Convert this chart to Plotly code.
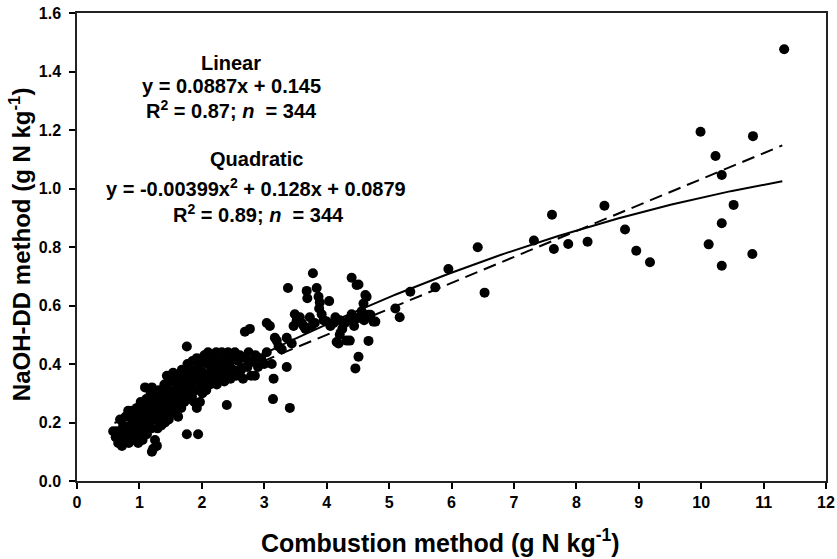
import numpy as np
import plotly.graph_objects as go

# ---- data ----
# dense low range (0.5 - 3.5 g N/kg)
x_low = [0.58, 0.62, 0.64, 0.66, 0.69, 0.70, 0.72, 0.74, 0.76,
         0.78, 0.80, 0.82, 0.83, 0.85, 0.86, 0.88, 0.89, 0.91, 0.92,
         0.94, 0.96, 0.97, 0.98, 1.00, 1.01, 1.02, 1.04, 1.05, 1.06, 1.08, 1.09, 1.10,
         1.11, 1.12, 1.14, 1.15, 1.16, 1.18, 1.19, 1.20, 1.20, 1.22, 1.22, 1.24, 1.25, 1.26, 1.27,
         1.28, 1.29, 1.30, 1.31, 1.33, 1.34, 1.35, 1.36, 1.38, 1.39, 1.40, 1.41, 1.43, 1.44, 1.45,
         1.46, 1.47, 1.48, 1.50, 1.51, 1.52, 1.54, 1.55, 1.56, 1.58, 1.59, 1.60, 1.62, 1.63, 1.64,
         1.65, 1.67, 1.68, 1.69, 1.71, 1.72, 1.74, 1.75, 1.76, 1.76, 1.77, 1.78, 1.80, 1.81, 1.83,
         1.84, 1.85, 1.86, 1.88, 1.89, 1.90, 1.92, 1.92, 1.94, 1.94, 1.95, 1.97, 1.98, 2.00, 2.01,
         2.02, 2.04, 2.05, 2.07, 2.08, 2.10, 2.11, 2.13, 2.14, 2.16, 2.18, 2.19, 2.21, 2.23, 2.24,
         2.26, 2.28, 2.30, 2.32, 2.34, 2.36, 2.38, 2.40, 2.40, 2.42, 2.44, 2.46, 2.48, 2.50,
         2.53, 2.55, 2.58, 2.61, 2.63, 2.66, 2.69, 2.70, 2.73, 2.75, 2.77, 2.79, 2.82, 2.85, 2.86,
         2.90, 2.95, 3.00, 3.04, 3.04, 3.09, 3.12, 3.14, 3.15, 3.17, 3.20, 3.23, 3.28, 3.36, 3.36,
         3.38, 3.41, 3.44, 3.47, 3.49]
y_low = [0.17, 0.15, 0.17, 0.13, 0.21, 0.16, 0.12, 0.19, 0.14,
         0.22, 0.17, 0.24, 0.13, 0.19, 0.15, 0.24, 0.21, 0.17, 0.14,
         0.22, 0.25, 0.19, 0.13, 0.16, 0.23, 0.27, 0.20, 0.14, 0.25, 0.18, 0.32, 0.22,
         0.28, 0.16, 0.24, 0.20, 0.27, 0.30, 0.18, 0.32, 0.10, 0.23, 0.11, 0.26, 0.14, 0.21, 0.29,
         0.12, 0.18, 0.25, 0.31, 0.22, 0.28, 0.19, 0.26, 0.30, 0.23, 0.33, 0.20, 0.27, 0.36, 0.24,
         0.31, 0.21, 0.29, 0.26, 0.34, 0.23, 0.37, 0.28, 0.31, 0.25, 0.34, 0.29, 0.22, 0.36, 0.27,
         0.32, 0.25, 0.38, 0.30, 0.34, 0.27, 0.37, 0.31, 0.46, 0.16, 0.40, 0.28, 0.35, 0.32, 0.38,
         0.29, 0.41, 0.34, 0.27, 0.37, 0.31, 0.42, 0.25, 0.16, 0.35, 0.39, 0.27, 0.33, 0.41, 0.30,
         0.37, 0.43, 0.34, 0.31, 0.40, 0.44, 0.36, 0.33, 0.41, 0.38, 0.43, 0.35, 0.39, 0.44, 0.33,
         0.37, 0.41, 0.35, 0.44, 0.39, 0.34, 0.42, 0.26, 0.37, 0.44, 0.40, 0.35, 0.42, 0.38,
         0.44, 0.36, 0.41, 0.43, 0.38, 0.35, 0.51, 0.42, 0.39, 0.44, 0.52, 0.36, 0.41, 0.36, 0.43,
         0.39, 0.42, 0.40, 0.54, 0.44, 0.53, 0.40, 0.28, 0.35, 0.49, 0.48, 0.46, 0.45, 0.49, 0.39,
         0.66, 0.25, 0.47, 0.53, 0.57]

# middle range (3.5 - 4.8 g N/kg)
x_mid = [3.52, 3.57, 3.60, 3.63, 3.66, 3.68, 3.69, 3.73, 3.76, 3.78, 3.81, 3.84, 3.87, 3.88,
         3.89, 3.92, 3.95, 4.00, 4.04, 4.06, 4.11, 4.14, 4.16, 4.19, 4.21, 4.21, 4.25, 4.29,
         4.32, 4.35, 4.37, 4.40, 4.40, 4.40, 4.44, 4.46, 4.48, 4.48, 4.51, 4.51, 4.52, 4.56,
         4.59, 4.60, 4.62, 4.64, 4.67, 4.67, 4.70, 4.75, 4.78]
y_mid = [0.55, 0.56, 0.54, 0.53, 0.52, 0.65, 0.625, 0.56, 0.53, 0.71, 0.54, 0.66, 0.63, 0.59,
         0.61, 0.57, 0.55, 0.545, 0.615, 0.53, 0.54, 0.56, 0.475, 0.47, 0.55, 0.50, 0.52, 0.54,
         0.48, 0.55, 0.48, 0.695, 0.57, 0.55, 0.53, 0.385, 0.67, 0.556, 0.425, 0.672, 0.56, 0.58,
         0.607, 0.55, 0.636, 0.63, 0.568, 0.479, 0.568, 0.545, 0.545]

# high range (> 5 g N/kg)
x_high = [5.10, 5.17, 5.34, 5.74, 5.95, 6.42, 6.53, 7.32, 7.61, 7.64, 7.87, 8.18, 8.45,
          8.78, 8.96, 9.18, 9.99, 10.12, 10.23, 10.33, 10.33, 10.33, 10.52, 10.82, 10.83, 11.33]
y_high = [0.59, 0.56, 0.647, 0.662, 0.725, 0.799, 0.644, 0.822, 0.91, 0.793, 0.81, 0.818, 0.941,
          0.86, 0.787, 0.748, 1.194, 0.809, 1.111, 1.046, 0.881, 0.736, 0.944, 0.776, 1.179, 1.476]

# fitted equations (from the chart text)
linear_coef = [0.0887, 0.145]             # slope, intercept
quad_coef = [-0.00399, 0.128, 0.0879]     # a, b, c
fit_range = [0.6, 11.3]

x_tick_vals = list(range(0, 13))
y_tick_vals = [0.0, 0.2, 0.4, 0.6, 0.8, 1.0, 1.2, 1.4, 1.6]

x_title = "Combustion method (g N kg<sup>-1</sup>)"
y_title = "NaOH-DD method (g N kg<sup>-1</sup>)"

# ---- figure ----
xs = x_low + x_mid + x_high
ys = y_low + y_mid + y_high

xf = np.linspace(fit_range[0], fit_range[1], 200)
y_lin = linear_coef[0] * xf + linear_coef[1]
y_quad = np.polyval(quad_coef, xf)

fig = go.Figure()
fig.add_trace(go.Scatter(x=xs, y=ys, mode="markers",
                         marker=dict(color="black", size=10, line=dict(width=0)),
                         showlegend=False))
fig.add_trace(go.Scatter(x=xf, y=y_lin, mode="lines",
                         line=dict(color="black", width=2, dash="13px,7px"),
                         showlegend=False))
fig.add_trace(go.Scatter(x=xf, y=y_quad, mode="lines",
                         line=dict(color="black", width=2),
                         showlegend=False))

tick_font = dict(family="Liberation Sans, Arial, sans-serif", size=16, color="black", weight="bold")
x_title_font = dict(family="Liberation Sans, Arial, sans-serif", size=25, color="black", weight="bold")
y_title_font = dict(family="Liberation Sans, Arial, sans-serif", size=24, color="black", weight="bold")

fig.update_xaxes(range=[0, 12], tickvals=x_tick_vals, ticks="outside", ticklen=6, tickwidth=1.5,
                 tickcolor="black", showline=True, linecolor="#222", linewidth=1.5, mirror=True,
                 showgrid=False, zeroline=False, tickfont=tick_font, automargin=False,
                 ticklabeloverflow="allow")
fig.update_yaxes(range=[0, 1.6], tickvals=y_tick_vals, tickformat=".1f", ticks="outside",
                 ticklen=6, tickwidth=1.5, tickcolor="black", showline=True, linecolor="#222",
                 linewidth=1.5, mirror=True, showgrid=False, zeroline=False, tickfont=tick_font,
                 automargin=False, ticklabelstandoff=5, ticklabeloverflow="allow")

fig.add_annotation(x=0.5, y=0, xref="paper", yref="paper", text=x_title, showarrow=False,
                   font=x_title_font, xanchor="center", yanchor="middle", xshift=-11, yshift=-60)
fig.add_annotation(x=0, y=0.506, xref="paper", yref="paper", text=y_title, showarrow=False,
                   font=y_title_font, xanchor="center", yanchor="middle", textangle=-90, xshift=-57)

ann_font = dict(family="Liberation Sans, Arial, sans-serif", size=20, color="black", weight="bold")
texts = [
    ("Linear", 2.46, 1.43),
    ("y = 0.0887x + 0.145", 2.47, 1.35),
    ("R<sup>2</sup> = 0.87; <i>n</i>  = 344", 2.47, 1.27),
    ("Quadratic", 2.88, 1.10),
    ("y = -0.00399x<sup>2</sup> + 0.128x + 0.0879", 2.87, 1.005),
    ("R<sup>2</sup> = 0.89; <i>n</i>  = 344", 2.90, 0.915),
]
for t, x, y in texts:
    fig.add_annotation(x=x, y=y, xref="x", yref="y", text=t, showarrow=False,
                       font=ann_font, xanchor="center", yanchor="middle")

fig.update_layout(width=837, height=559, margin=dict(l=77, r=11, t=13, b=78),
                  paper_bgcolor="white", plot_bgcolor="white")

# remove the default 8px page margin so the figure fills the window exactly
fig.write_html("out.html", config={"displayModeBar": False},
               post_script="document.body.style.margin='0';")
